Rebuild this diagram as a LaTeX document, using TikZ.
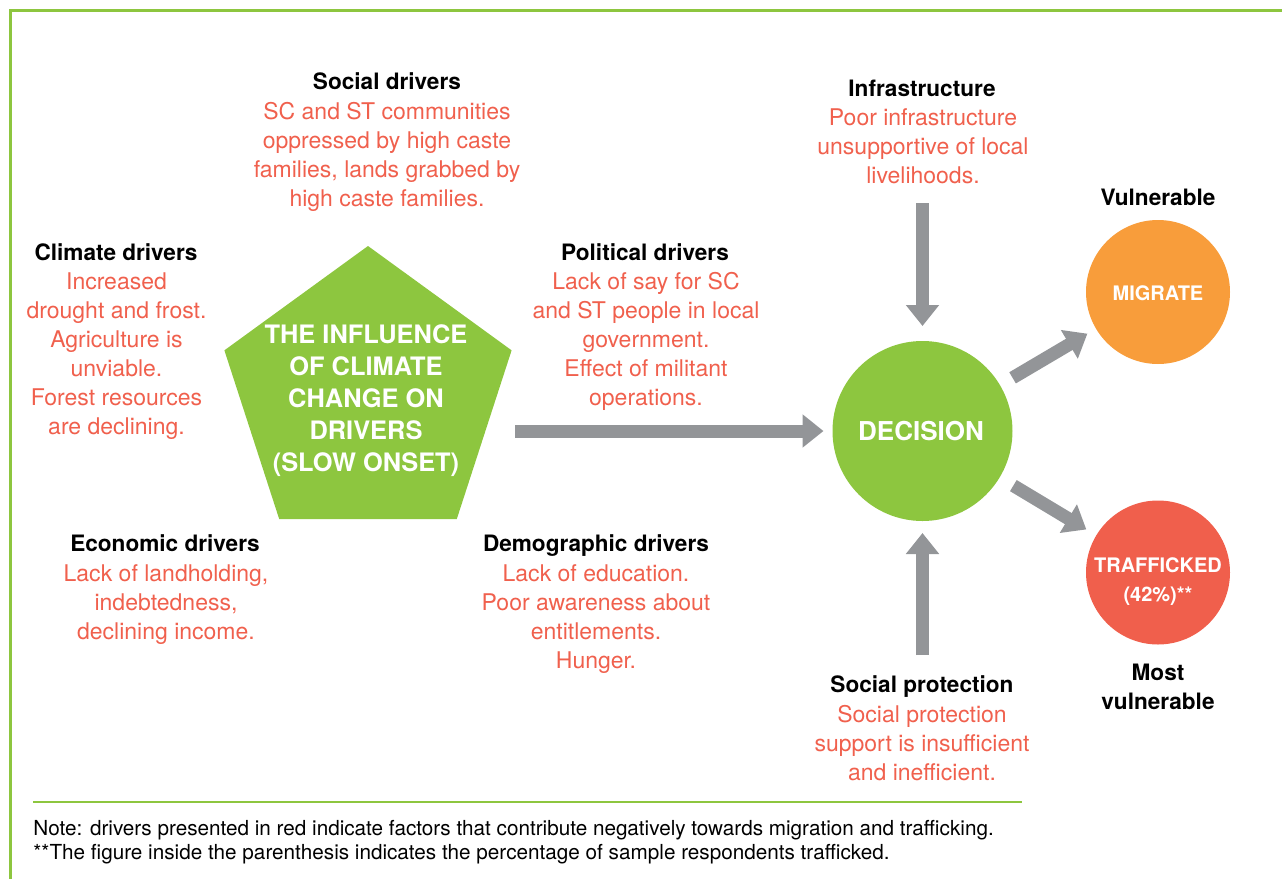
\documentclass[tikz,border=0pt]{standalone}
\usepackage{fontspec}
\setmainfont{TeX Gyre Heros}
\usetikzlibrary{shapes.geometric,arrows.meta}
\definecolor{greenc}{HTML}{8DC63F}
\definecolor{redt}{HTML}{F0604D}
\definecolor{redc}{HTML}{F05F4C}
\definecolor{orangec}{HTML}{F89D3B}
\definecolor{grayc}{HTML}{939598}
\begin{document}
\begin{tikzpicture}[x=0.5pt,y=-0.5pt,
  heading/.style={font=\bfseries\fontsize{11.3pt}{14.5pt}\selectfont, anchor=base, inner sep=0pt, align=center},
  redtext/.style={text=redt, font=\fontsize{11.5pt}{14.5pt}\selectfont, align=center, anchor=base, inner sep=0pt},
  bigtext/.style={text=white, font=\bfseries\fontsize{12.7pt}{16pt}\selectfont, align=center, inner sep=0pt},
  circtext/.style={text=white, font=\bfseries\fontsize{10pt}{14.5pt}\selectfont, inner sep=0pt},
  fatarrow/.style={draw=grayc, line width=6.5pt, -{Triangle[width=16pt,length=10.5pt]}},
  notetext/.style={font=\fontsize{10.35pt}{12pt}\selectfont, anchor=base west, inner sep=0pt}
]
\useasboundingbox (0,0) rectangle (1282,879);
% frame
\draw[greenc, line width=1.5pt] (10.5,879) -- (10.5,10.5) -- (1282,10.5);

% pentagon
\node[regular polygon, regular polygon sides=5, minimum size=151pt, fill=greenc, inner sep=0pt, outer sep=0pt] (pent) at (368,397) {};
\node[bigtext] (ptext) at (366,401) {THE INFLUENCE\\OF CLIMATE\\CHANGE ON\\DRIVERS\\(SLOW ONSET)};

% circles
\node[circle, fill=greenc, minimum size=90pt, inner sep=0pt, outer sep=0pt] (decision) at (922.5,431) {};
\node[text=white, font=\bfseries\fontsize{13pt}{16pt}\selectfont, inner sep=0pt] (dtext) at (921,431) {DECISION};
\node[circle, fill=orangec, minimum size=72pt, inner sep=0pt, outer sep=0pt] (migrate) at (1158,292) {};
\node[circtext] (mtext) at (1158,293) {MIGRATE};
\node[circle, fill=redc, minimum size=72pt, inner sep=0pt, outer sep=0pt] (traff) at (1158,572.5) {};
\node[circtext, anchor=base] (ttext1) at (1158,572) {TRAFFICKED};
\node[circtext, anchor=base] (ttext2) at (1158,601) {(42\%)**};

% headings and texts (anchor=base is the last line's baseline)
\node[heading] (socialh) at (387,89) {Social drivers};
\node[redtext] (socialt) at (387,206) {SC and ST communities\\oppressed by high caste\\families, lands grabbed by\\high caste families.};

\node[heading] (climh) at (116,260) {Climate drivers};
\node[redtext] (climt) at (116.5,434) {Increased\\drought and frost.\\Agriculture is\\unviable.\\Forest resources\\are declining.};

\node[heading] (polh) at (645,260) {Political drivers};
\node[redtext] (polt) at (646,405) {Lack of say for SC\\and ST people in local\\government.\\Effect of militant\\operations.};

\node[heading] (ecoh) at (165,551) {Economic drivers};
\node[redtext] (ecot) at (166,639) {Lack of landholding,\\indebtedness,\\declining income.};

\node[heading] (demh) at (596,551) {Demographic drivers};
\node[redtext] (demt) at (596,668) {Lack of education.\\Poor awareness about\\entitlements.\\Hunger.};

\node[heading] (infh) at (922,96) {Infrastructure};
\node[redtext] (inft) at (923,183) {Poor infrastructure\\unsupportive of local\\livelihoods.};

\node[heading] (sph) at (922,692) {Social protection};
\node[redtext] (spt) at (922,780) {Social protection\\support is insufficient\\and inefficient.};

\node[heading] (vulh) at (1158,205) {Vulnerable};
\node[heading] (mvulh) at (1158,709) {Most\\vulnerable};

% arrows
\coordinate (hstart) at (515,431);
\coordinate (infratop) at (922.5,203);
\coordinate (spbot) at (922.5,655);
\draw[fatarrow, shorten >=4.5pt] (hstart) -- (decision.west);
\draw[fatarrow, shorten >=7.5pt] (infratop) -- (decision.north);
\draw[fatarrow, shorten >=6pt] (spbot) -- (decision.south);
\draw[fatarrow, shorten <=7.3pt, shorten >=5pt] (decision) -- (migrate);
\draw[fatarrow, shorten <=8pt, shorten >=5.8pt] (decision) -- (traff);

% note
\draw[greenc, line width=0.75pt] (33,802) -- (1022,802);
\node[notetext] (note1) at (33,835) {Note: drivers presented in red indicate factors that contribute negatively towards migration and trafficking.};
\node[notetext] (note2) at (33,859) {**The figure inside the parenthesis indicates the percentage of sample respondents trafficked.};
\end{tikzpicture}
\end{document}
